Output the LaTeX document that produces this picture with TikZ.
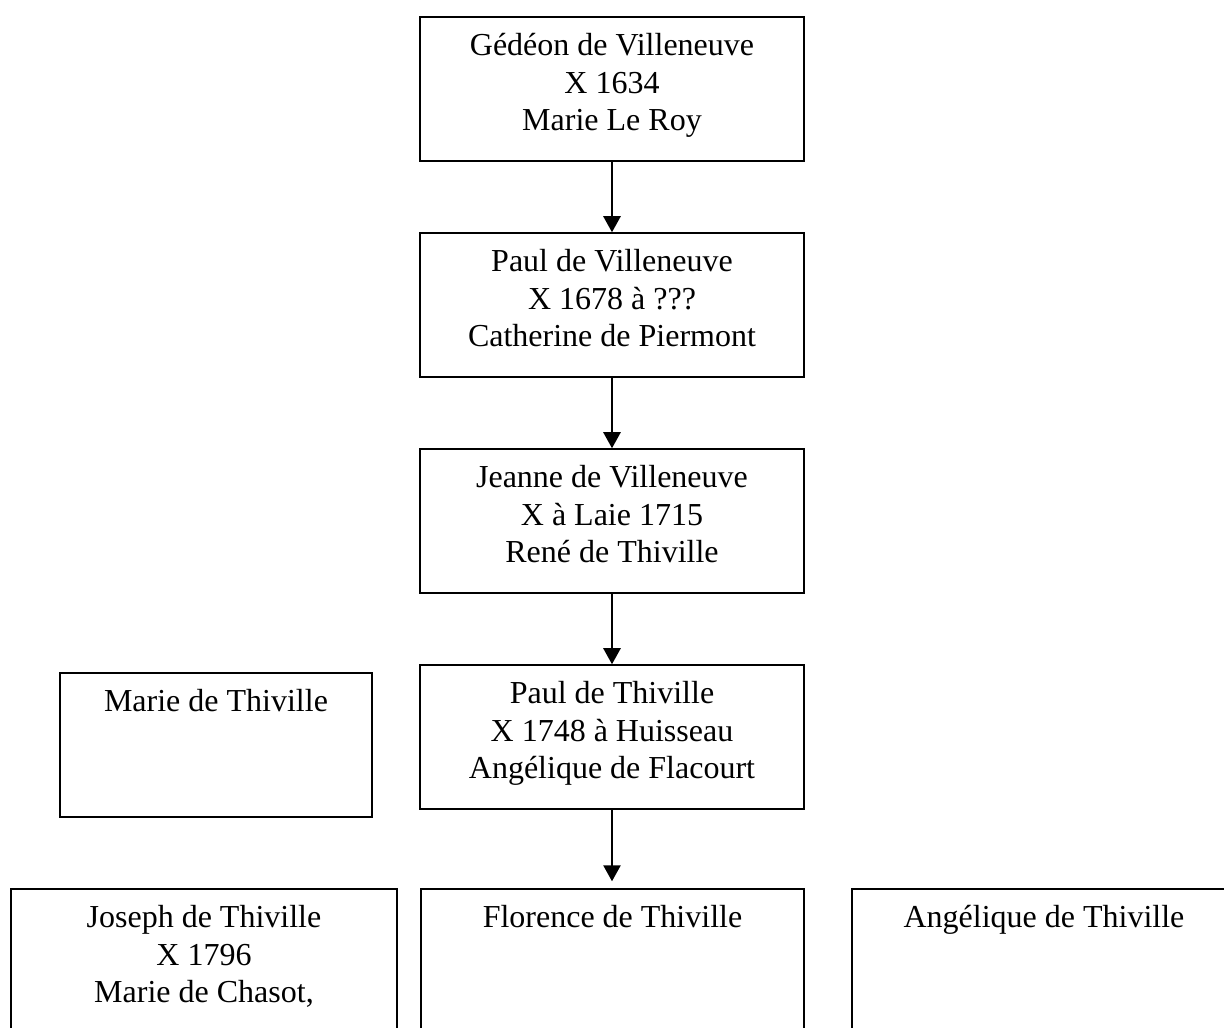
\documentclass[tikz,border=0pt]{standalone}
\usepackage{fontspec}
\setmainfont{Liberation Serif}
\usetikzlibrary{arrows.meta}

\newcommand{\famtext}[2]{\parbox[c][54pt][t]{#1}{\centering\rule{0pt}{14.6pt}#2}}

\tikzset{
  person/.style={draw, line width=0.6pt, inner sep=0pt},
  descent/.style={-{Triangle[width=6.5pt,length=6pt]}, line width=0.6pt}
}

\begin{document}
\begin{tikzpicture}[x=0.375pt,y=-0.375pt,font=\fontsize{12}{14}\selectfont]
  \useasboundingbox (0,0) rectangle (1224,1028);
  \clip (0,0) rectangle (1224,1028);
  \node[person] (gedeon) at (612,89) {\famtext{144pt}{Gédéon de Villeneuve\\X 1634\\Marie Le Roy}};
  \node[person] (paul) at (612,305) {\famtext{144pt}{Paul de Villeneuve\\X 1678 à ???\\Catherine de Piermont}};
  \node[person] (jeanne) at (612,521) {\famtext{144pt}{Jeanne de Villeneuve\\X à Laie 1715\\René de Thiville}};
  \node[person] (pauldt) at (612,737) {\famtext{144pt}{Paul de Thiville\\X 1748 à Huisseau\\Angélique de Flacourt}};
  \node[person] (marie) at (216,745) {\famtext{117pt}{Marie de Thiville}};
  \node[person] (joseph) at (204,961) {\famtext{144.75pt}{Joseph de Thiville\\X 1796\\Marie de Chasot,}};
  \node[person] (florence) at (612.5,961) {\famtext{143.6pt}{Florence de Thiville}};
  \node[person] (angelique) at (1044,961) {\famtext{144pt}{Angélique de Thiville}};
  \draw[descent] (gedeon) -- (paul);
  \draw[descent] (paul) -- (jeanne);
  \draw[descent] (jeanne) -- (pauldt);
  \draw[descent, shorten >=2.6pt] (pauldt.south) -- (pauldt.south |- florence.north);
\end{tikzpicture}
\end{document}
